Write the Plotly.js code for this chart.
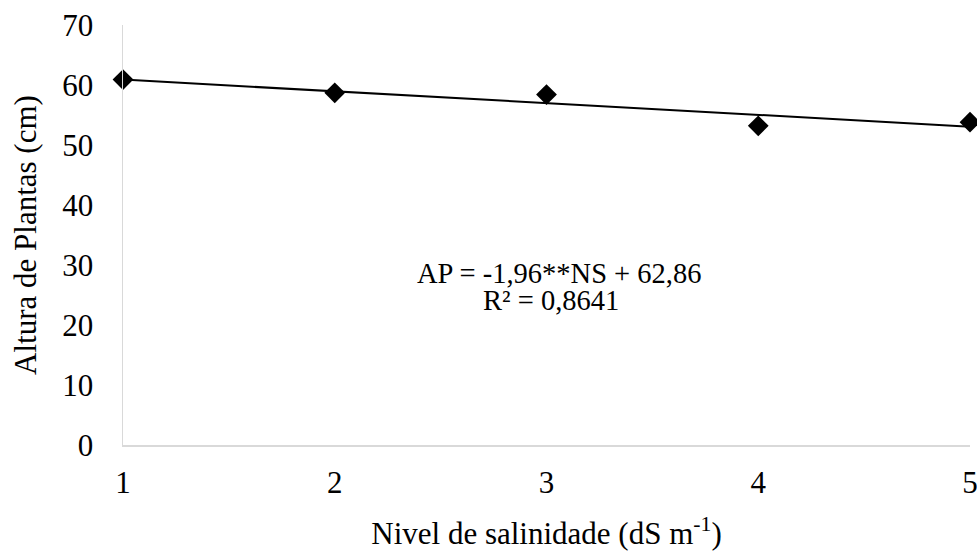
<!DOCTYPE html>
<html>
<head>
<meta charset="utf-8">
<script src="https://cdn.plot.ly/plotly-3.0.1.min.js"></script>
<style>html,body{margin:0;padding:0;background:#fff;}#chart{width:977px;height:551px;}</style>
</head>
<body>
<div id="chart"></div>
<script>
const salinity = [1, 2, 3, 4, 5];
const plantHeight = [60.9, 58.7, 58.4, 53.2, 53.8];
const slope = -1.96;
const intercept = 62.86;
const trendX = [1, 5];
const trendY = trendX.map(v => slope * v + intercept);
const yTicks = [0, 10, 20, 30, 40, 50, 60, 70];
const xTicks = [1, 2, 3, 4, 5];
const equationLine = 'AP = -1,96**NS + 62,86';
const r2Line = 'R² = 0,8641';

function mkFont(size) {
  return {family: 'Liberation Serif, Times New Roman, serif', color: '#000000', size: size};
}

const data = [
  {x: trendX, y: trendY, mode: 'lines', line: {color: '#000', width: 2}, hoverinfo: 'skip', cliponaxis: false},
  {x: salinity, y: plantHeight, mode: 'markers', marker: {symbol: 'diamond', size: 16, color: '#000'}, cliponaxis: false}
];

const layout = {
  width: 977, height: 551,
  paper_bgcolor: '#fff', plot_bgcolor: '#fff',
  showlegend: false,
  font: mkFont(31),
  margin: {l: 123, r: 7, t: 25, b: 106},
  xaxis: {
    range: [1, 5], tickvals: xTicks, showgrid: false, zeroline: false,
    showline: true, linecolor: '#d9d9d9', linewidth: 1.5,
    ticks: '', ticklabelstandoff: 9, ticklabeloverflow: 'allow', tickfont: mkFont(31),
    title: {text: 'Nivel de salinidade (dS m<sup>-1</sup>)', font: mkFont(31), standoff: 23}
  },
  yaxis: {
    range: [0, 70], tickvals: yTicks, showgrid: false, zeroline: false,
    showline: true, linecolor: '#d9d9d9', linewidth: 1.5,
    ticks: '', ticklabelstandoff: 22, tickfont: mkFont(31),
    title: {text: 'Altura de Plantas (cm)', font: mkFont(31), standoff: 16}
  },
  annotations: [
    {x: 3.06, y: 28.6, xref: 'x', yref: 'y', text: equationLine, showarrow: false, font: mkFont(28.5)},
    {x: 3.02, y: 24.1, xref: 'x', yref: 'y', text: r2Line, showarrow: false, font: mkFont(28.5)}
  ]
};

Plotly.newPlot('chart', data, layout, {displayModeBar: false, staticPlot: true});
</script>
</body>
</html>
